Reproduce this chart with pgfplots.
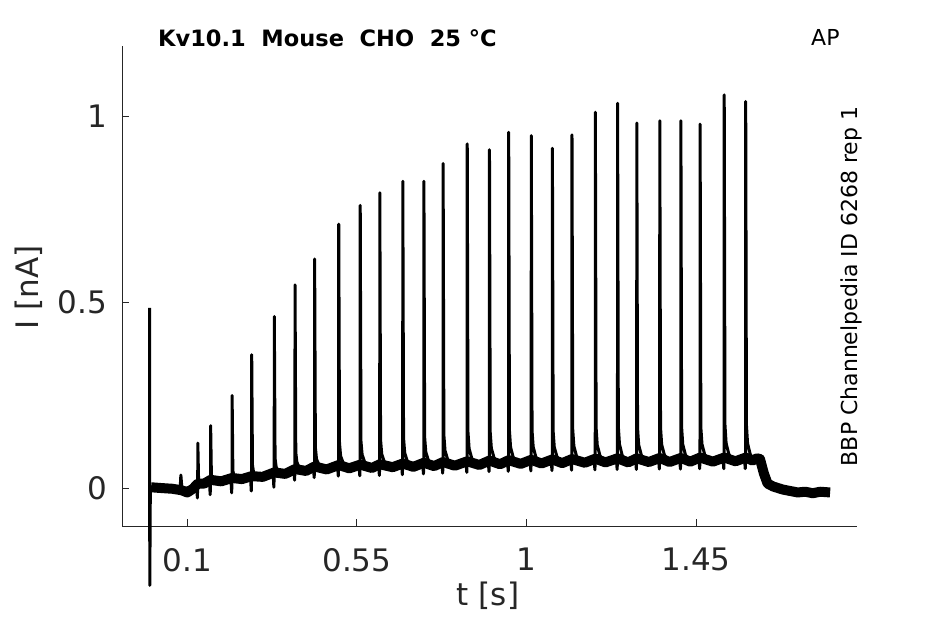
\documentclass[border=0pt]{standalone}
\usepackage{pgfplots}
\pgfplotsset{compat=1.18}
\usepackage{fontspec}
\setmainfont{DejaVu Sans}
\definecolor{mgray}{RGB}{38,38,38}
\begin{document}
\begin{tikzpicture}
\useasboundingbox (-122.5bp,-98bp) rectangle (822.5bp,526bp);
\begin{axis}[
  at={(0,0)}, anchor=south west,
  scale only axis, width=734.2bp, height=480bp,
  xmin=-0.0719, xmax=1.8766, ymin=-0.1023, ymax=1.1904,
  axis lines=left, axis line style={-, mgray, line width=0.8bp},
  tick align=inside, major tick length=7bp, tick style={mgray, line width=0.8bp},
  xtick={0.1,0.55,1,1.45}, xticklabels={0.1,0.55,1,1.45},
  ytick={0,0.5,1}, yticklabels={0,0.5,1},
  ticklabel style={font=\fontsize{31bp}{31bp}\selectfont, text=mgray, inner sep=0pt},
  xticklabel style={anchor=north, yshift=-22bp},
  yticklabel style={anchor=east, xshift=-15.5bp},
  clip=false,
]
% noise band of the baseline
\addplot[black, line width=10bp, line join=round, line cap=butt] coordinates {
(0.004,0.002) (0.03,0.000) (0.06,-0.002) (0.085,-0.006) (0.10,-0.012) (0.115,-0.002)
(0.128,0.012) (0.145,0.012) (0.162,0.022) (0.19,0.018) (0.219,0.027) (0.245,0.024)
(0.271,0.032) (0.30,0.030) (0.331,0.042) (0.36,0.038) (0.386,0.051) (0.415,0.046)
(0.438,0.058) (0.47,0.050) (0.502,0.062) (0.53,0.053) (0.559,0.063) (0.59,0.054)
(0.611,0.064) (0.645,0.056) (0.672,0.066) (0.70,0.057) (0.728,0.068) (0.755,0.059)
(0.779,0.070) (0.81,0.060) (0.843,0.072) (0.875,0.062) (0.902,0.074) (0.93,0.064)
(0.953,0.075) (0.985,0.065) (1.013,0.076) (1.04,0.066) (1.069,0.077) (1.095,0.067)
(1.121,0.078) (1.155,0.068) (1.183,0.079) (1.21,0.069) (1.242,0.080) (1.27,0.069)
(1.293,0.080) (1.325,0.070) (1.354,0.081) (1.38,0.070) (1.410,0.081) (1.435,0.071)
(1.461,0.082) (1.495,0.071) (1.525,0.082) (1.555,0.072) (1.582,0.082) (1.60,0.074)
(1.612,0.080) (1.620,0.078) (1.630,0.040) (1.640,0.012) (1.655,0.004) (1.68,-0.004)
(1.70,-0.008) (1.72,-0.012) (1.74,-0.010) (1.76,-0.014) (1.78,-0.010) (1.806,-0.012)
};
% current trace with the spikes
\addplot[black, line width=3bp, line join=round] coordinates {
(0.000,0.485) (0.0005,-0.262) (0.002,0.002)
(0.081,-0.004) (0.083,0.035) (0.086,-0.004)
(0.125,0.008) (0.1268,-0.027) (0.1277,0.008) (0.128,0.121) (0.130,0.023) (0.133,0.013) (0.140,0.010) (0.148,0.008)
(0.159,0.017) (0.1608,-0.018) (0.1617,0.017) (0.162,0.168) (0.164,0.036) (0.167,0.024) (0.174,0.019) (0.182,0.017)
(0.216,0.022) (0.2178,-0.013) (0.2187,0.022) (0.219,0.249) (0.221,0.047) (0.224,0.032) (0.231,0.025) (0.239,0.022)
(0.268,0.027) (0.2698,-0.008) (0.2707,0.027) (0.271,0.359) (0.273,0.062) (0.276,0.042) (0.283,0.032) (0.291,0.027)
(0.328,0.037) (0.3298,0.002) (0.3307,0.037) (0.331,0.462) (0.333,0.080) (0.336,0.056) (0.343,0.043) (0.351,0.037)
(0.383,0.046) (0.3848,0.021) (0.3857,0.046) (0.386,0.547) (0.388,0.096) (0.391,0.069) (0.398,0.054) (0.406,0.046)
(0.435,0.053) (0.4368,0.028) (0.4377,0.053) (0.438,0.617) (0.440,0.109) (0.443,0.078) (0.450,0.061) (0.458,0.053)
(0.499,0.057) (0.5008,0.032) (0.5017,0.057) (0.502,0.711) (0.504,0.121) (0.507,0.086) (0.514,0.067) (0.522,0.057)
(0.556,0.058) (0.5578,0.033) (0.5587,0.058) (0.559,0.761) (0.561,0.126) (0.564,0.090) (0.571,0.069) (0.579,0.058)
(0.608,0.059) (0.6098,0.034) (0.6107,0.059) (0.611,0.795) (0.613,0.130) (0.616,0.092) (0.623,0.070) (0.631,0.059)
(0.669,0.061) (0.6708,0.036) (0.6717,0.061) (0.672,0.826) (0.674,0.135) (0.677,0.095) (0.684,0.072) (0.692,0.061)
(0.725,0.063) (0.7268,0.038) (0.7277,0.063) (0.728,0.826) (0.730,0.137) (0.733,0.097) (0.740,0.074) (0.748,0.063)
(0.776,0.065) (0.7778,0.040) (0.7787,0.065) (0.779,0.874) (0.781,0.143) (0.784,0.101) (0.791,0.077) (0.799,0.065)
(0.840,0.067) (0.8418,0.042) (0.8427,0.067) (0.843,0.927) (0.845,0.150) (0.848,0.106) (0.855,0.080) (0.863,0.067)
(0.899,0.069) (0.9008,0.044) (0.9017,0.069) (0.902,0.911) (0.904,0.150) (0.907,0.107) (0.914,0.082) (0.922,0.069)
(0.950,0.070) (0.9518,0.045) (0.9527,0.070) (0.953,0.958) (0.955,0.155) (0.958,0.110) (0.965,0.083) (0.973,0.070)
(1.010,0.071) (1.0118,0.046) (1.0127,0.071) (1.013,0.949) (1.015,0.155) (1.018,0.111) (1.025,0.084) (1.033,0.071)
(1.066,0.072) (1.0678,0.047) (1.0687,0.072) (1.069,0.915) (1.071,0.153) (1.074,0.110) (1.081,0.085) (1.089,0.072)
(1.118,0.073) (1.1198,0.048) (1.1207,0.073) (1.121,0.951) (1.123,0.157) (1.126,0.113) (1.133,0.086) (1.141,0.073)
(1.180,0.074) (1.1818,0.049) (1.1827,0.074) (1.183,1.012) (1.185,0.163) (1.188,0.116) (1.195,0.088) (1.203,0.074)
(1.239,0.075) (1.2408,0.050) (1.2417,0.075) (1.242,1.036) (1.244,0.166) (1.247,0.118) (1.254,0.089) (1.262,0.075)
(1.290,0.075) (1.2918,0.050) (1.2927,0.075) (1.293,0.983) (1.295,0.162) (1.298,0.116) (1.305,0.089) (1.313,0.075)
(1.351,0.076) (1.3528,0.051) (1.3537,0.076) (1.354,0.989) (1.356,0.163) (1.359,0.117) (1.366,0.090) (1.374,0.076)
(1.407,0.076) (1.4088,0.051) (1.4097,0.076) (1.410,0.989) (1.412,0.163) (1.415,0.117) (1.422,0.090) (1.430,0.076)
(1.458,0.077) (1.4598,0.052) (1.4607,0.077) (1.461,0.980) (1.463,0.163) (1.466,0.118) (1.473,0.091) (1.481,0.077)
(1.522,0.077) (1.5238,0.052) (1.5247,0.077) (1.525,1.059) (1.527,0.170) (1.530,0.121) (1.537,0.092) (1.545,0.077)
(1.579,0.077) (1.5808,0.052) (1.5817,0.077) (1.582,1.041) (1.584,0.169) (1.587,0.120) (1.594,0.091) (1.602,0.077)
};
\end{axis}
\node[anchor=base, inner sep=0pt, text=mgray, font=\fontsize{31bp}{31bp}\selectfont] at (365.5bp,-79bp) {t [s]};
\node[anchor=base, rotate=90, inner sep=0pt, text=mgray, font=\fontsize{31bp}{31bp}\selectfont] at (-84bp,238.5bp) {I [nA]};
\node[anchor=base west, inner sep=0pt, font=\fontsize{22.5bp}{22.5bp}\selectfont\bfseries] at (35.5bp,479bp) {Kv10.1\ \ Mouse\ \ CHO\ \ 25 °C};
\node[anchor=base west, inner sep=0pt, font=\fontsize{22bp}{22bp}\selectfont] at (688.5bp,480bp) {AP};
\node[anchor=base, rotate=90, inner sep=0pt, font=\fontsize{22bp}{22bp}\selectfont] at (734.5bp,239.5bp) {BBP Channelpedia ID 6268 rep 1};
\end{tikzpicture}
\end{document}
